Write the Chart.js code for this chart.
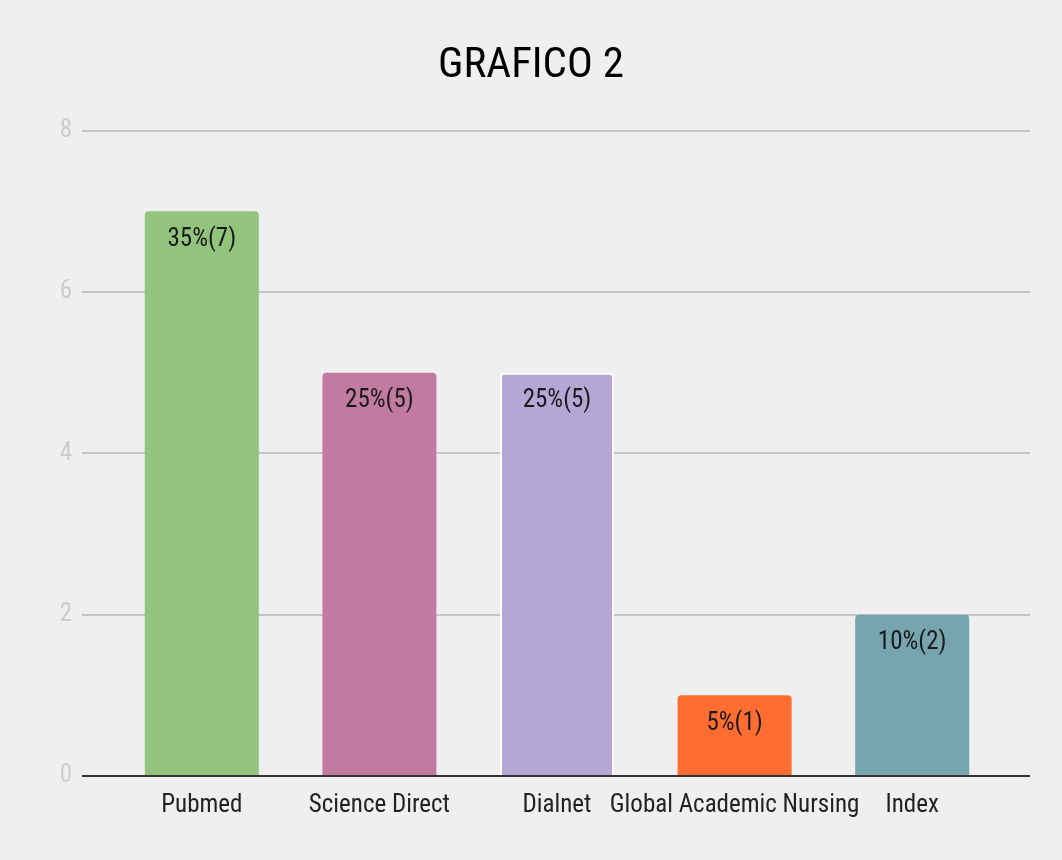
<!DOCTYPE html>
<html>
<head>
<meta charset="utf-8">
<script src="https://cdn.jsdelivr.net/npm/chart.js@4/dist/chart.umd.min.js"></script>
<style>
  html, body { margin: 0; padding: 0; background: #efefef; }
  #wrap { width: 1062px; height: 860px; }
</style>
</head>
<body>
<div id="wrap"><canvas id="grafico"></canvas></div>
<script>
// Data
const categories = ['Pubmed', 'Science Direct', 'Dialnet', 'Global Academic Nursing', 'Index'];
const counts = [7, 5, 5, 1, 2];
const barColors = ['#93c47d', '#c27ba0', '#b4a7d6', '#ff6d31', '#76a5af'];
const barBorders = ['#93c47d', '#c27ba0', '#ffffff', '#ff6d31', '#76a5af'];
const yTicks = [0, 2, 4, 6, 8];

const total = counts.reduce((s, v) => s + v, 0);
const barLabels = counts.map(v => Math.round(v / total * 100) + '%(' + v + ')');

const FONT = "'Roboto Condensed', 'Liberation Sans Narrow', 'Arial Narrow', Roboto, sans-serif";

// Gridline colour: dark baseline at 0, light gray otherwise
const gridColor = ctx => (ctx.tick && ctx.tick.value === 0) ? '#333333' : '#c4c4c4';

// Draws the "35%(7)" style labels just inside the top of each bar
const barLabelPlugin = {
    id: 'barLabels',
    afterDatasetsDraw(chart) {
        const ctx = chart.ctx;
        const meta = chart.getDatasetMeta(0);
        ctx.save();
        ctx.font = '25px ' + FONT;
        ctx.fillStyle = '#1a1a1a';
        ctx.textAlign = 'center';
        ctx.textBaseline = 'middle';
        meta.data.forEach((bar, i) => {
            ctx.fillText(barLabels[i], bar.x, bar.y + 28);
        });
        ctx.restore();
    }
};

new Chart(document.getElementById('grafico'), {
    type: 'bar',
    data: {
        labels: categories,
        datasets: [{
            data: counts,
            backgroundColor: barColors,
            borderColor: barBorders,
            borderWidth: ctx => ctx.dataIndex === 2 ? 2 : 0,
            borderRadius: 4,
            barPercentage: 0.642,
            categoryPercentage: 1
        }]
    },
    options: {
        responsive: true,
        maintainAspectRatio: false,
        animation: false,
        layout: { padding: 0 },
        plugins: {
            legend: { display: false },
            tooltip: { enabled: false },
            title: {
                display: true,
                text: 'GRAFICO 2',
                color: '#000000',
                font: { family: FONT, size: 43, weight: 'normal' },
                padding: { top: 40, bottom: 39 }
            }
        },
        scales: {
            x: {
                grid: { display: false, drawTicks: false },
                border: { display: false },
                afterFit: s => { s.height = 84; },
                ticks: {
                    color: '#222222',
                    font: { family: FONT, size: 25 },
                    padding: 15,
                    maxRotation: 0,
                    autoSkip: false
                }
            },
            y: {
                min: 0,
                max: 8,
                afterBuildTicks: s => { s.ticks = yTicks.map(v => ({ value: v })); },
                afterFit: s => { s.width = 113; },
                grid: { color: gridColor, lineWidth: 2, tickLength: 31 },
                border: { display: false },
                ticks: {
                    color: '#cccccc',
                    font: { family: FONT, size: 25 },
                    padding: 10
                }
            },
            yRight: {
                position: 'right',
                min: 0,
                max: 8,
                afterBuildTicks: s => { s.ticks = yTicks.map(v => ({ value: v })); },
                afterFit: s => { s.width = 61; },
                grid: { color: gridColor, lineWidth: 2, tickLength: 29, drawOnChartArea: false },
                border: { display: false },
                ticks: { display: false }
            }
        }
    },
    plugins: [barLabelPlugin]
});
</script>
</body>
</html>
